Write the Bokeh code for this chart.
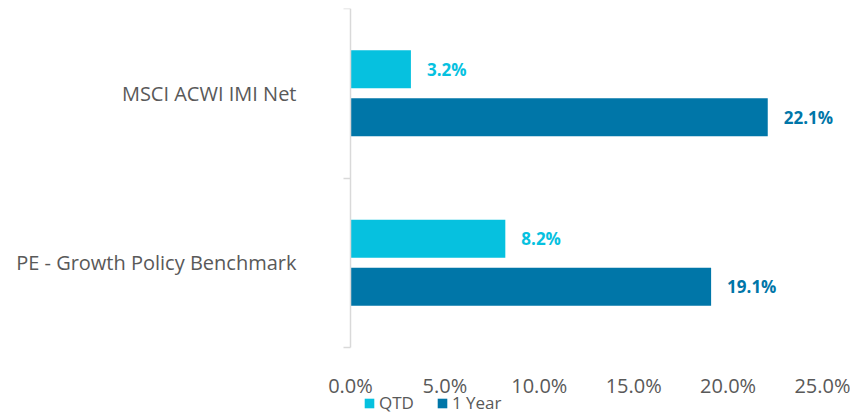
from bokeh.plotting import figure
from bokeh.models import (ColumnDataSource, FixedTicker, PrintfTickFormatter, Range1d,
                          LabelSet, Legend, LegendItem)
from bokeh.core.properties import value
from bokeh.embed import file_html
from bokeh.resources import INLINE

# ---- data ----
categories = ["PE - Growth Policy Benchmark", "MSCI ACWI IMI Net"]  # bottom to top
qtd = [8.2, 3.2]
one_year = [19.1, 22.1]
series_names = ["QTD", "1 Year"]
x_ticks = [0, 5, 10, 15, 20, 25]

QTD_COLOR = "#06C1DF"
YEAR_COLOR = "#0076A8"
TEXT_COLOR = "#595959"
FONT = "Open Sans"

n = len(categories)
centers = [i + 0.5 for i in range(n)]
bar_h = 0.224
off = 0.142

src_q = ColumnDataSource(dict(y=[c + off for c in centers], v=qtd,
                              lab=[f"{v:.1f}%" for v in qtd]))
src_y = ColumnDataSource(dict(y=[c - off for c in centers], v=one_year,
                              lab=[f"{v:.1f}%" for v in one_year]))

# the frame covers the whole picture; axes are fixed at x = 0 and y = 0
px_per_unit = 472 / 25
p = figure(output_backend="svg", toolbar_location=None,
           frame_width=850, frame_height=406,
           min_border_left=0, min_border_right=0,
           min_border_top=8, min_border_bottom=0,
           x_range=Range1d(-350 / px_per_unit, 500 / px_per_unit),
           y_range=Range1d(-0.395, n))
p.outline_line_color = None
p.grid.visible = False
p.background_fill_color = "white"
p.border_fill_color = "white"

rq = p.hbar(y="y", left=0, right="v", height=bar_h, source=src_q,
            fill_color=QTD_COLOR, line_color=None)
ry = p.hbar(y="y", left=0, right="v", height=bar_h, source=src_y,
            fill_color=YEAR_COLOR, line_color=None)

for src, col in ((src_q, QTD_COLOR), (src_y, YEAR_COLOR)):
    p.add_layout(LabelSet(x="v", y="y", text="lab", source=src, x_offset=16,
                          text_align="left", text_baseline="middle",
                          text_font=value(FONT), text_font_size=value("17px"),
                          text_font_style="bold", text_color=col))

# x axis, drawn at y = 0
xa = p.xaxis[0]
xa.fixed_location = 0
xa.ticker = FixedTicker(ticks=x_ticks)
xa.formatter = PrintfTickFormatter(format="%.1f%%")
xa.axis_line_color = None
xa.major_tick_line_color = None
xa.minor_tick_line_color = None
xa.major_tick_out = 0
xa.major_label_text_font = FONT
xa.major_label_text_font_size = "20px"
xa.major_label_text_color = TEXT_COLOR
xa.major_label_standoff = 24

# y axis at x = 0: labels at category centers, ticks at band boundaries
ya = p.yaxis[0]
ya.fixed_location = 0
ya.bounds = (0, n)
ya.ticker = FixedTicker(ticks=centers, minor_ticks=list(range(n + 1)))
ya.major_label_overrides = {c: cat for c, cat in zip(centers, categories)}
ya.axis_line_color = "#D9D9D9"
ya.axis_line_width = 1.5
ya.major_tick_line_color = None
ya.major_tick_out = 0
ya.major_tick_in = 0
ya.minor_tick_line_color = "#D9D9D9"
ya.minor_tick_line_width = 1.5
ya.minor_tick_out = 7
ya.minor_tick_in = 0
ya.major_label_text_font = FONT
ya.major_label_text_font_size = "20px"
ya.major_label_text_color = TEXT_COLOR
ya.major_label_standoff = 47

legend = Legend(items=[LegendItem(label=series_names[0], renderers=[rq]),
                       LegendItem(label=series_names[1], renderers=[ry])],
                orientation="horizontal", location=(363, 0),
                glyph_width=12, glyph_height=12, label_height=16,
                label_standoff=4, spacing=22, padding=0, margin=0,
                border_line_color=None, background_fill_alpha=0,
                label_text_font=FONT, label_text_font_size="17px",
                label_text_color=TEXT_COLOR)
p.add_layout(legend, "center")

open("out.html", "w").write(file_html(p, INLINE))
